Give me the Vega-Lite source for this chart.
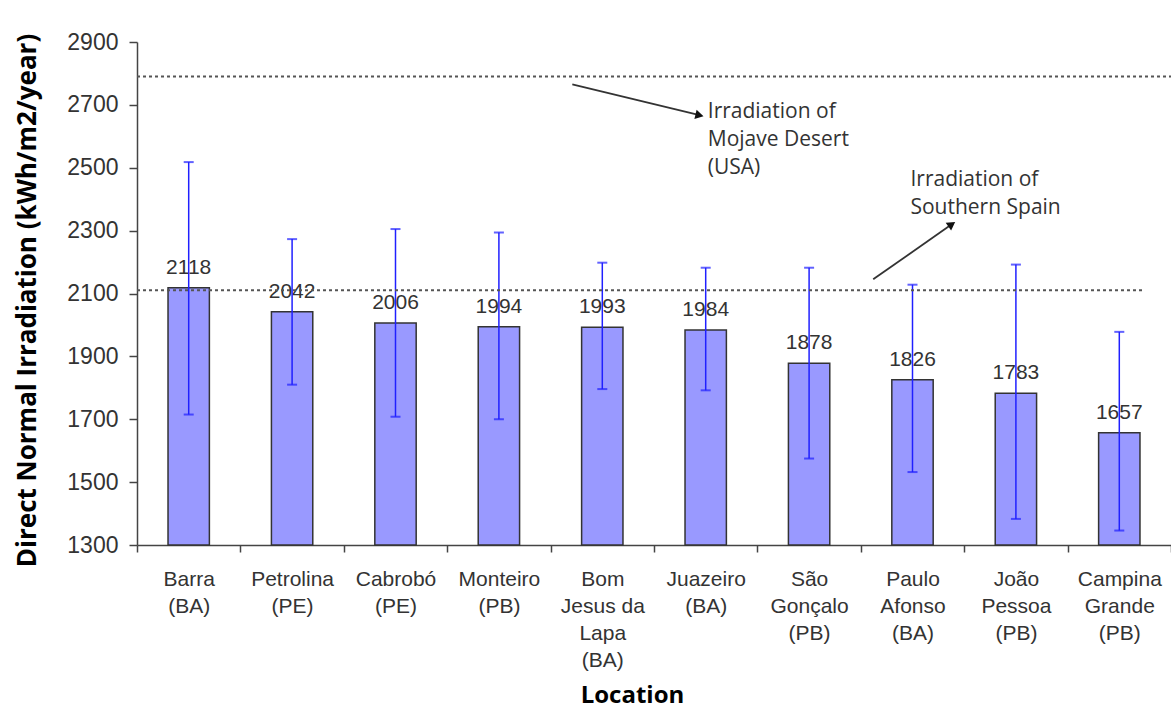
{
  "$schema": "https://vega.github.io/schema/vega-lite/v6.json",
  "autosize": "none",
  "width": 1034,
  "height": 503,
  "padding": {"left": 137, "top": 42, "right": 0, "bottom": 164},
  "background": "white",
  "config": {"view": {"stroke": null}},
  "datasets": {
    "sites": [
      {"loc": "Barra\n(BA)", "dni": 2118, "lo": 1715, "hi": 2518},
      {"loc": "Petrolina\n(PE)", "dni": 2042, "lo": 1810, "hi": 2273},
      {"loc": "Cabrobó\n(PE)", "dni": 2006, "lo": 1708, "hi": 2305},
      {"loc": "Monteiro\n(PB)", "dni": 1994, "lo": 1700, "hi": 2294},
      {"loc": "Bom\nJesus da\nLapa\n(BA)", "dni": 1993, "lo": 1796, "hi": 2198},
      {"loc": "Juazeiro\n(BA)", "dni": 1984, "lo": 1792, "hi": 2182},
      {"loc": "São\nGonçalo\n(PB)", "dni": 1878, "lo": 1575, "hi": 2182},
      {"loc": "Paulo\nAfonso\n(BA)", "dni": 1826, "lo": 1532, "hi": 2128},
      {"loc": "João\nPessoa\n(PB)", "dni": 1783, "lo": 1383, "hi": 2192},
      {"loc": "Campina\nGrande\n(PB)", "dni": 1657, "lo": 1346, "hi": 1978}
    ],
    "refs": [
      {"name": "Mojave Desert (USA)", "x0": 0, "x1": 10, "y": 2790},
      {"name": "Southern Spain", "x0": 0, "x1": 9.73, "y": 2110}
    ],
    "arrowMojave": [{"x0": 4.21, "y0": 2765, "x1": 5.44, "y1": 2667}],
    "arrowSpain": [{"x0": 7.12, "y0": 2145, "x1": 7.88, "y1": 2320}],
    "notes": [
      {"x": 5.52, "y": 2712, "txt": "Irradiation of\nMojave Desert\n(USA)"},
      {"x": 7.48, "y": 2495, "txt": "Irradiation of\nSouthern Spain"}
    ]
  },
  "resolve": {"scale": {"x": "independent"}, "axis": {"x": "independent"}},
  "layer": [
    {
      "data": {"name": "sites"},
      "encoding": {
        "x": {
          "field": "loc", "type": "nominal", "sort": null,
          "scale": {"paddingInner": 0, "paddingOuter": 0},
          "axis": {
            "title": "Location",
            "labelExpr": "split(datum.label, '\\n')",
            "labelAngle": 0,
            "labelFont": "Liberation Sans",
            "labelFontSize": 21,
            "labelColor": "#333333",
            "labelLineHeight": 27,
            "labelPadding": 16,
            "tickBand": "extent",
            "tickSize": 7,
            "tickColor": "#444444",
            "tickWidth": 1.5,
            "domainColor": "#444444",
            "domainWidth": 1.5,
            "titleFont": "Open Sans",
            "titleFontWeight": "bold",
            "titleFontSize": 24,
            "titleColor": "#000000",
            "titleX": 495,
            "titleY": 150,
            "titleBaseline": "middle"
          }
        },
        "y": {
          "type": "quantitative",
          "scale": {"domain": [1300, 2900], "nice": false, "zero": false},
          "axis": {
            "title": "Direct Normal Irradiation (kWh/m2/year)",
            "values": [1300, 1500, 1700, 1900, 2100, 2300, 2500, 2700, 2900],
            "format": "d",
            "grid": false,
            "labelFont": "Liberation Sans",
            "labelFontSize": 23,
            "labelColor": "#333333",
            "labelPadding": 11,
            "tickSize": 8,
            "tickColor": "#444444",
            "tickWidth": 1.5,
            "domainColor": "#444444",
            "domainWidth": 1.5,
            "titleFont": "Open Sans",
            "titleFontWeight": "bold",
            "titleFontSize": 26,
            "titleColor": "#000000",
            "titleX": -110,
            "titleY": 258,
            "titleAlign": "center",
            "titleBaseline": "middle",
            "titleAngle": -90
          }
        }
      },
      "layer": [
        {
          "mark": {"type": "bar", "width": {"band": 0.4}, "fill": "#9999ff", "stroke": "#333333", "strokeWidth": 1.5},
          "encoding": {"y": {"field": "dni"}, "y2": {"datum": 1300}}
        },
        {
          "mark": {"type": "text", "font": "Liberation Sans", "fontSize": 21, "color": "#333333", "baseline": "alphabetic", "dy": -14},
          "encoding": {"y": {"field": "dni"}, "text": {"field": "dni", "type": "quantitative", "format": "d"}}
        },
        {
          "mark": {"type": "rule", "color": "#2020ff", "strokeWidth": 1.5},
          "encoding": {"y": {"field": "lo"}, "y2": {"field": "hi"}}
        },
        {
          "mark": {"type": "tick", "color": "#2020ff", "thickness": 2, "size": 10, "orient": "horizontal"},
          "encoding": {"y": {"field": "lo"}}
        },
        {
          "mark": {"type": "tick", "color": "#2020ff", "thickness": 2, "size": 10, "orient": "horizontal"},
          "encoding": {"y": {"field": "hi"}}
        }
      ]
    },
    {
      "data": {"name": "refs"},
      "mark": {"type": "rule", "color": "#555555", "strokeWidth": 2, "strokeDash": [3, 3]},
      "encoding": {
        "x": {"field": "x0", "type": "quantitative", "scale": {"domain": [0, 10], "nice": false}, "axis": null},
        "x2": {"field": "x1"},
        "y": {"field": "y", "type": "quantitative"}
      }
    },
    {
      "data": {"name": "arrowMojave"},
      "layer": [
        {
          "mark": {"type": "rule", "color": "#333333", "strokeWidth": 1.8},
          "encoding": {
            "x": {"field": "x0", "type": "quantitative", "scale": {"domain": [0, 10], "nice": false}, "axis": null},
            "x2": {"field": "x1"},
            "y": {"field": "y0", "type": "quantitative"},
            "y2": {"field": "y1"}
          }
        },
        {
          "mark": {"type": "point", "shape": "triangle-up", "filled": true, "color": "#111111", "size": 90, "angle": 103.6, "opacity": 1},
          "encoding": {
            "x": {"field": "x1", "type": "quantitative", "scale": {"domain": [0, 10], "nice": false}, "axis": null},
            "y": {"field": "y1", "type": "quantitative"}
          }
        }
      ]
    },
    {
      "data": {"name": "arrowSpain"},
      "layer": [
        {
          "mark": {"type": "rule", "color": "#333333", "strokeWidth": 1.8},
          "encoding": {
            "x": {"field": "x0", "type": "quantitative", "scale": {"domain": [0, 10], "nice": false}, "axis": null},
            "x2": {"field": "x1"},
            "y": {"field": "y0", "type": "quantitative"},
            "y2": {"field": "y1"}
          }
        },
        {
          "mark": {"type": "point", "shape": "triangle-up", "filled": true, "color": "#111111", "size": 90, "angle": 55.2, "opacity": 1},
          "encoding": {
            "x": {"field": "x1", "type": "quantitative", "scale": {"domain": [0, 10], "nice": false}, "axis": null},
            "y": {"field": "y1", "type": "quantitative"}
          }
        }
      ]
    },
    {
      "data": {"name": "notes"},
      "mark": {"type": "text", "font": "Open Sans", "fontSize": 21, "color": "#333333", "align": "left", "baseline": "top", "lineBreak": "\n", "lineHeight": 28},
      "encoding": {
        "x": {"field": "x", "type": "quantitative", "scale": {"domain": [0, 10], "nice": false}, "axis": null},
        "y": {"field": "y", "type": "quantitative"},
        "text": {"field": "txt"}
      }
    }
  ]
}
